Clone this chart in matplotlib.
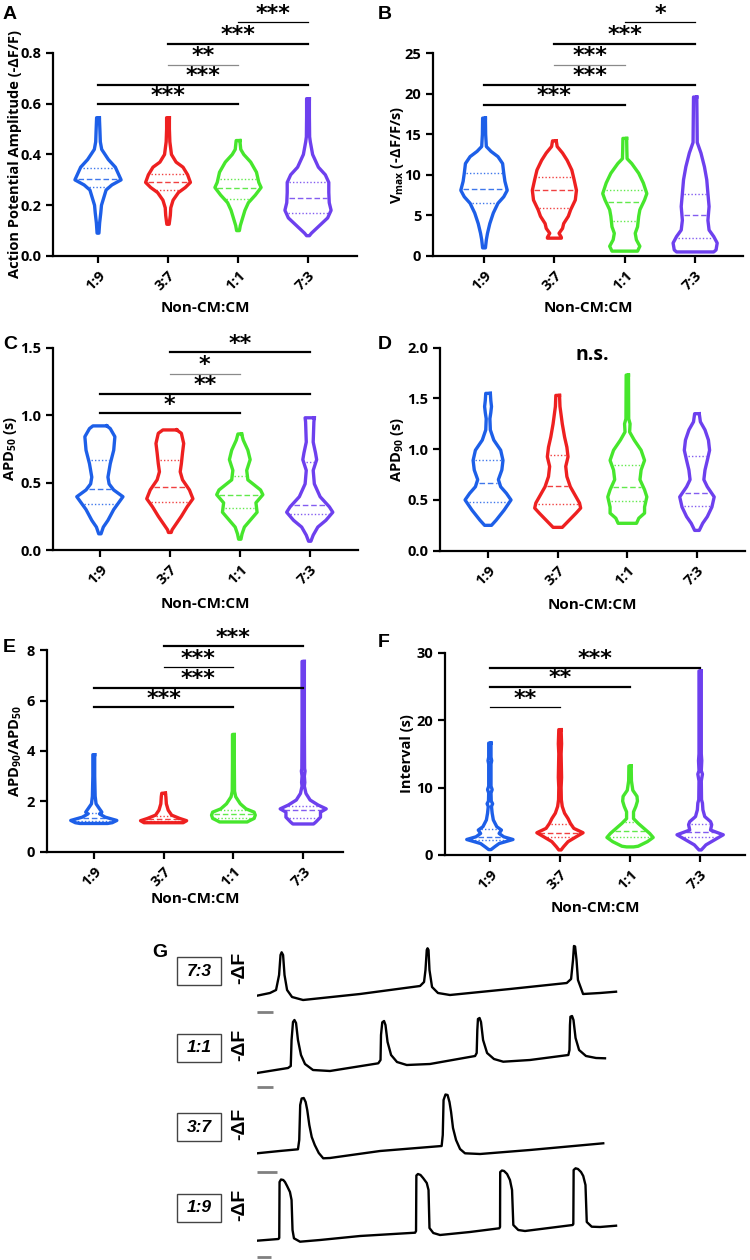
import numpy as np
import matplotlib.pyplot as plt
from matplotlib.patches import Rectangle

plt.rcParams['font.family'] = ['Open Sans', 'DejaVu Sans']
plt.rcParams['font.weight'] = 'bold'
plt.rcParams['mathtext.fontset'] = 'custom'
plt.rcParams['mathtext.rm'] = 'Open Sans:bold'
plt.rcParams['mathtext.bf'] = 'Open Sans:bold'
plt.rcParams['mathtext.it'] = 'Open Sans:bold:italic'

W, H = 750, 1260
groups = ['1:9', '3:7', '1:1', '7:3']
colors = ['#1d5fe8', '#ee2020', '#46e62c', '#6d40ee']

# ---- A: action potential amplitude, violin outline (level, relative half width)
amp_lv = [[0.545, 0.50, 0.45, 0.42, 0.38, 0.35, 0.32, 0.30, 0.28, 0.26, 0.23, 0.20, 0.17, 0.13, 0.09],
          [0.545, 0.50, 0.45, 0.40, 0.37, 0.35, 0.32, 0.29, 0.27, 0.25, 0.22, 0.19, 0.16, 0.125],
          [0.455, 0.42, 0.40, 0.37, 0.33, 0.29, 0.27, 0.24, 0.21, 0.18, 0.15, 0.12, 0.10],
          [0.62, 0.55, 0.47, 0.45, 0.40, 0.35, 0.32, 0.29, 0.25, 0.21, 0.18, 0.15, 0.12, 0.09, 0.08]]
amp_w = [[0.06, 0.08, 0.10, 0.16, 0.45, 0.75, 0.90, 1.00, 0.60, 0.35, 0.25, 0.15, 0.12, 0.07, 0.04],
         [0.06, 0.06, 0.08, 0.15, 0.35, 0.65, 0.85, 0.97, 0.75, 0.45, 0.22, 0.12, 0.10, 0.05],
         [0.08, 0.12, 0.25, 0.55, 0.80, 0.90, 1.00, 0.75, 0.45, 0.30, 0.20, 0.10, 0.06],
         [0.06, 0.06, 0.07, 0.10, 0.20, 0.45, 0.75, 0.90, 0.90, 0.92, 1.00, 0.85, 0.50, 0.15, 0.06]]
amp_q = [(0.272, 0.305, 0.348), (0.26, 0.29, 0.322), (0.225, 0.268, 0.305), (0.17, 0.23, 0.29)]
amp_sig = [(0, 2, 0.598, '***'), (0, 3, 0.674, '***'), (1, 2, 0.753, '**'),
           (1, 3, 0.837, '***'), (2, 3, 0.921, '***')]
amp_bar = ['k', 'k', 'g', 'k', 't']

# ---- B: Vmax
vmax_lv = [[17.0, 15.0, 13.5, 12.9, 12.25, 11.4, 10.2, 9.2, 8.1, 7.3, 6.5, 5.3, 4.0, 2.8, 2.0, 1.0],
           [14.2, 13.5, 12.7, 11.8, 10.6, 9.4, 8.1, 6.9, 5.7, 4.9, 4.0, 3.4, 2.8, 2.3, 2.2],
           [14.5, 13.0, 12.0, 11.4, 10.2, 9.0, 7.7, 6.9, 5.7, 4.9, 3.6, 2.8, 2.0, 1.2, 0.6],
           [19.6, 17.0, 14.0, 12.7, 11.0, 9.4, 7.7, 6.1, 4.4, 3.2, 2.4, 1.6, 0.75, 0.5]]
vmax_w = [[0.06, 0.07, 0.10, 0.30, 0.60, 0.80, 0.85, 0.90, 1.00, 0.85, 0.60, 0.40, 0.25, 0.15, 0.10, 0.06],
          [0.08, 0.12, 0.35, 0.55, 0.75, 0.85, 0.95, 0.90, 0.70, 0.60, 0.40, 0.35, 0.20, 0.30, 0.30],
          [0.08, 0.09, 0.10, 0.30, 0.60, 0.80, 0.95, 0.85, 0.65, 0.60, 0.55, 0.45, 0.50, 0.65, 0.55],
          [0.07, 0.08, 0.09, 0.25, 0.40, 0.50, 0.55, 0.60, 0.55, 0.60, 0.80, 0.95, 0.90, 0.80]]
vmax_q = [(6.5, 8.3, 10.2), (5.9, 8.1, 9.8), (4.3, 6.6, 8.1), (2.2, 5.0, 7.7)]
vmax_sig = [(0, 2, 18.6, '***'), (0, 3, 21.1, '***'), (1, 2, 23.6, '***'),
            (1, 3, 26.2, '***'), (2, 3, 28.8, '*')]
vmax_bar = ['k', 'k', 'g', 'k', 't']

# ---- C: APD50
apd50_lv = [[0.92, 0.90, 0.84, 0.74, 0.64, 0.54, 0.49, 0.445, 0.395, 0.30, 0.22, 0.17, 0.12],
            [0.89, 0.865, 0.79, 0.72, 0.64, 0.58, 0.52, 0.445, 0.38, 0.32, 0.25, 0.20, 0.15, 0.13],
            [0.86, 0.815, 0.74, 0.67, 0.59, 0.52, 0.445, 0.41, 0.35, 0.28, 0.22, 0.17, 0.12, 0.08],
            [0.98, 0.95, 0.80, 0.72, 0.67, 0.59, 0.49, 0.395, 0.32, 0.28, 0.22, 0.17, 0.11, 0.065]]
apd50_w = [[0.30, 0.45, 0.65, 0.60, 0.45, 0.35, 0.40, 0.60, 1.00, 0.60, 0.35, 0.15, 0.05],
           [0.30, 0.50, 0.60, 0.55, 0.50, 0.45, 0.55, 0.85, 1.00, 0.75, 0.50, 0.30, 0.10, 0.06],
           [0.08, 0.15, 0.35, 0.45, 0.30, 0.35, 0.90, 1.00, 0.70, 0.75, 0.45, 0.20, 0.10, 0.05],
           [0.20, 0.18, 0.15, 0.25, 0.30, 0.15, 0.20, 0.45, 0.85, 1.00, 0.70, 0.35, 0.15, 0.05]]
apd50_q = [(0.34, 0.45, 0.67), (0.355, 0.465, 0.67), (0.31, 0.41, 0.545), (0.265, 0.335, 0.65)]
apd50_sig = [(0, 2, 1.013, '*'), (0, 3, 1.156, '**'), (1, 2, 1.307, '*'), (1, 3, 1.465, '**')]
apd50_bar = ['k', 'k', 'g', 'k']

# ---- D: APD90
apd90_lv = [[1.55, 1.48, 1.42, 1.36, 1.30, 1.19, 1.09, 0.99, 0.89, 0.795, 0.70, 0.63, 0.565, 0.50, 0.40, 0.30, 0.25],
            [1.53, 1.42, 1.25, 1.12, 1.02, 0.925, 0.83, 0.73, 0.63, 0.55, 0.47, 0.42, 0.37, 0.30, 0.23],
            [1.73, 1.30, 1.25, 1.17, 1.09, 0.99, 0.89, 0.795, 0.70, 0.60, 0.53, 0.43, 0.37, 0.32, 0.27],
            [1.35, 1.27, 1.19, 1.09, 0.99, 0.89, 0.795, 0.70, 0.63, 0.53, 0.43, 0.335, 0.27, 0.20]]
apd90_w = [[0.10, 0.12, 0.15, 0.12, 0.08, 0.10, 0.25, 0.55, 0.65, 0.60, 0.45, 0.55, 0.80, 1.00, 0.70, 0.35, 0.15],
           [0.08, 0.10, 0.20, 0.30, 0.40, 0.45, 0.35, 0.40, 0.55, 0.75, 0.95, 1.00, 0.80, 0.50, 0.20],
           [0.05, 0.06, 0.12, 0.10, 0.30, 0.60, 0.75, 0.60, 0.55, 0.75, 0.85, 0.75, 0.75, 0.50, 0.40],
           [0.10, 0.15, 0.35, 0.50, 0.55, 0.45, 0.35, 0.30, 0.45, 0.75, 0.65, 0.45, 0.25, 0.10]]
apd90_q = [(0.48, 0.665, 0.89), (0.465, 0.64, 0.94), (0.49, 0.625, 0.845), (0.445, 0.57, 0.935)]

# ---- E: APD90/APD50
ratio_lv = [[3.85, 3.0, 2.2, 1.9, 1.7, 1.57, 1.5, 1.37, 1.24, 1.15, 1.12],
            [2.32, 2.18, 1.9, 1.65, 1.45, 1.32, 1.23, 1.15],
            [4.65, 3.5, 2.4, 2.18, 1.9, 1.7, 1.57, 1.45, 1.32, 1.23, 1.18],
            [7.55, 5.0, 3.3, 3.2, 3.0, 2.75, 2.6, 2.31, 2.05, 1.85, 1.7, 1.57, 1.37, 1.18, 1.10]]
ratio_w = [[0.04, 0.04, 0.06, 0.10, 0.25, 0.35, 0.25, 0.50, 1.00, 0.80, 0.60],
           [0.08, 0.10, 0.12, 0.20, 0.35, 0.70, 1.00, 0.85],
           [0.04, 0.04, 0.05, 0.10, 0.30, 0.55, 0.90, 0.95, 0.90, 0.70, 0.60],
           [0.05, 0.05, 0.06, 0.08, 0.05, 0.07, 0.05, 0.12, 0.30, 0.65, 1.00, 0.75, 0.75, 0.55, 0.45]]
ratio_q = [(1.22, 1.35, 1.55), (1.22, 1.30, 1.42), (1.35, 1.50, 1.65), (1.35, 1.65, 1.80)]
ratio_sig = [(0, 2, 5.73, '***'), (0, 3, 6.51, '***'), (1, 2, 7.32, '***'), (1, 3, 8.16, '***')]
ratio_bar = ['k', 'k', 't', 'k']

# ---- F: interval
int_lv = [[16.6, 14.5, 14.0, 13.5, 10.2, 9.7, 9.2, 8.0, 7.6, 7.2, 6.2, 5.2, 4.2, 3.7, 3.2, 2.7, 2.3, 1.7, 1.2, 0.8],
          [18.6, 16.5, 15.0, 11.5, 10.0, 8.2, 7.2, 6.2, 5.4, 4.7, 3.95, 3.3, 2.7, 1.98, 1.2, 0.75],
          [13.2, 11.0, 9.6, 8.7, 8.0, 7.2, 6.4, 5.4, 4.7, 3.95, 3.2, 2.6, 1.98, 1.3, 1.2],
          [27.3, 15.0, 14.0, 12.5, 12.0, 11.0, 8.2, 7.7, 6.7, 5.7, 4.95, 4.5, 3.7, 3.0, 2.2, 1.5, 0.75]]
int_w = [[0.05, 0.05, 0.08, 0.05, 0.05, 0.10, 0.05, 0.06, 0.12, 0.07, 0.10, 0.15, 0.30, 0.50, 0.40, 0.60, 1.00, 0.40, 0.20, 0.05],
         [0.05, 0.07, 0.05, 0.07, 0.05, 0.06, 0.10, 0.20, 0.35, 0.45, 0.60, 1.00, 0.70, 0.35, 0.15, 0.05],
         [0.05, 0.06, 0.12, 0.30, 0.32, 0.25, 0.15, 0.15, 0.35, 0.60, 0.85, 1.00, 0.75, 0.35, 0.15],
         [0.05, 0.05, 0.07, 0.05, 0.10, 0.05, 0.06, 0.10, 0.12, 0.20, 0.45, 0.50, 0.45, 1.00, 0.60, 0.25, 0.05]]
int_q = [(2.2, 2.7, 3.8), (2.6, 3.3, 4.55), (2.6, 3.5, 4.9), (2.6, 3.4, 4.6)]
int_sig = [(0, 1, 21.9, '**'), (0, 2, 24.97, '**'), (0, 3, 27.8, '***')]
int_bar = ['t', 'k', 'k']

# ---- G: representative traces, time (s) and -dF (a.u.)
trace_labels = ['7:3', '1:1', '3:7', '1:9']
t73 = [0, 0.81, 1.19, 1.38, 1.47, 1.54, 1.63, 1.72, 1.88, 2.19, 2.88, 6.44, 10.19, 10.44, 10.53, 10.61,
       10.66, 10.72, 10.78, 10.94, 11.31, 12.06, 15.81, 19.36, 19.63, 19.75, 19.81, 19.88, 19.97,
       20.06, 20.38, 21.44, 22.44]
f73 = [0.43, 0.7, 1.0, 2.5, 4.5, 4.77, 4.5, 2.5, 1.0, 0.3, 0.0, 0.6, 1.4, 1.8, 3.0, 5.0,
       5.17, 5.0, 3.0, 1.3, 0.7, 0.5, 1.1, 1.7, 2.1, 4.0, 5.4, 5.35, 4.0,
       2.0, 0.6, 0.7, 0.83]
t11 = [0, 1.94, 2.11, 2.16, 2.25, 2.34, 2.44, 2.56, 2.75, 3.0, 3.5, 4.56, 7.58, 7.72, 7.75, 7.83, 7.94,
       8.03, 8.16, 8.38, 8.75, 9.36, 10.81, 13.63, 13.73, 13.77, 13.81, 13.91, 14.0, 14.13, 14.38,
       14.81, 15.39, 17.06, 19.46, 19.53, 19.56, 19.59, 19.69, 19.78, 19.91, 20.13, 20.56, 21.19, 21.75]
f11 = [0.2, 0.7, 0.9, 3.5, 5.3, 5.5, 5.2, 3.5, 2.0, 1.1, 0.5, 0.4, 1.17, 1.5, 4.0, 5.27, 5.4,
       5.0, 3.3, 2.0, 1.3, 1.0, 1.1, 1.9, 2.2, 4.5, 5.6, 5.7, 5.3, 3.5, 2.2,
       1.6, 1.33, 1.5, 2.0, 2.5, 5.0, 5.83, 5.9, 5.5, 3.7, 2.5, 1.9, 1.7, 1.67]
t37 = [0, 1.42, 2.56, 2.64, 2.70, 2.79, 2.92, 3.04, 3.14, 3.27, 3.42, 3.61, 3.86, 4.14, 4.56, 7.69,
       11.54, 11.61, 11.66, 11.78, 11.91, 12.03, 12.13, 12.25, 12.44, 12.69, 13.0, 13.94, 17.06, 21.64]
f37 = [0.67, 0.9, 1.07, 2.0, 5.5, 6.15, 6.2, 5.8, 5.0, 3.5, 2.3, 1.5, 0.7, 0.17, 0.2, 0.9,
       1.4, 2.5, 6.0, 6.55, 6.5, 5.8, 4.8, 3.2, 2.0, 1.1, 0.67, 0.6, 1.0, 1.67]
t19 = [0, 1.34, 1.39, 1.41, 1.50, 1.64, 1.75, 1.88, 2.06, 2.16, 2.22, 2.31, 2.69, 3.94, 6.44, 9.88,
       9.94, 9.96, 10.06, 10.22, 10.38, 10.61, 10.72, 10.78, 11.02, 11.44, 13.31, 15.14, 15.19, 15.20,
       15.31, 15.44, 15.63, 15.81, 15.94, 16.02, 16.33, 16.75, 19.73, 19.77, 19.79, 19.91, 20.06,
       20.25, 20.39, 20.53, 20.61, 20.92, 21.44, 22.44]
f19 = [0.43, 0.6, 0.7, 6.3, 6.55, 6.5, 6.3, 5.9, 5.3, 4.5, 1.5, 0.67, 0.33, 0.5, 0.9, 1.23,
       1.4, 6.95, 7.1, 7.0, 6.7, 6.2, 5.5, 1.7, 1.2, 1.0, 1.3, 1.67, 1.8, 7.3,
       7.45, 7.4, 7.1, 6.5, 5.5, 2.0, 1.5, 1.4, 2.0, 2.1, 7.5, 7.67, 7.6,
       7.3, 6.9, 6.0, 2.3, 1.83, 1.8, 1.93]
traces_t = [t73, t11, t37, t19]
traces_f = [f73, f11, f37, f19]
scalebar_s = [1.0, 1.0, 1.25, 0.9]

fig = plt.figure(figsize=(W / 100, H / 100), dpi=100)


def px_axes(left, right, y0, scale, ytop):
    # axes placed from pixel positions: y0 = pixel row of value 0, scale = px per unit
    h = ytop * scale
    return fig.add_axes([left / W, 1 - y0 / H, (right - left) / W, h / H])


def violin(ax, pos, lv, w, q, color, half=0.33):
    lv = np.asarray(lv, float)
    hw = np.asarray(w, float) * half
    xs = np.r_[pos + hw, (pos - hw)[::-1], pos + hw[0]]
    ys = np.r_[lv, lv[::-1], lv[0]]
    ax.fill(xs, ys, color='white', zorder=2)
    ax.plot(xs, ys, color=color, lw=2.4, solid_joinstyle='round', zorder=3)
    for k, v in enumerate(q):
        wv = np.interp(v, lv[::-1], hw[::-1]) - 0.03
        ls = (0, (4, 2)) if k == 1 else (0, (1, 1.5))
        ax.plot([pos - wv, pos + wv], [v, v], color=color, lw=1.0, ls=ls, alpha=0.85, zorder=3)


def sig_bars(ax, sig, styles, gap):
    for (i, j, y, s), st in zip(sig, styles):
        lw = 1.6 if st == 'k' else 0.9
        c = '#8a8a8a' if st == 'g' else 'black'
        ax.plot([i + 1, j + 1], [y, y], color=c, lw=lw, clip_on=False, zorder=4)
        ax.text((i + j + 2) / 2, y + gap, s, ha='center', va='baseline', fontsize=16,
                fontweight='bold', family='DejaVu Sans', clip_on=False)


def style(ax, xlim, ylim, ymax, yticks, ylabel, lab_dx, xlab_dy, ax_px):
    ax.set_xlim(*xlim)
    ax.set_ylim(0, ylim)
    for s in ['top', 'right']:
        ax.spines[s].set_visible(False)
    ax.spines['left'].set_bounds(0, ymax)
    for s in ['left', 'bottom']:
        ax.spines[s].set_linewidth(1.6)
    ax.set_yticks(yticks)
    ax.set_xticks([1, 2, 3, 4])
    ax.set_xticklabels(groups, rotation=45, ha='right', rotation_mode='anchor')
    ax.tick_params(direction='out', length=5, width=1.6, labelsize=10.5)
    ax.tick_params(axis='x', pad=4)
    ax.set_ylabel(ylabel, fontsize=10.5, fontweight='bold')
    ax.yaxis.set_label_coords(lab_dx / ax_px[0], ymax / 2 / ylim)
    ax.set_xlabel('Non-CM:CM', fontsize=11, fontweight='bold')
    ax.xaxis.set_label_coords(0.5, -xlab_dy / ax_px[1])


def violin_panel(left, right, y0, scale, ytop, xlim, ymax, yticks, ylabel, lab_dx, xlab_dy,
                 lvs, ws, qs):
    ax = px_axes(left, right, y0, scale, ytop)
    for g in range(4):
        violin(ax, g + 1, lvs[g], ws[g], qs[g], colors[g])
    style(ax, xlim, ytop, ymax, yticks, ylabel, lab_dx, xlab_dy, (right - left, ytop * scale))
    return ax


axA = violin_panel(53, 357, 256, 253.75, 0.97, (0.357, 4.7), 0.8, [0, 0.2, 0.4, 0.6, 0.8],
                   'Action Potential Amplitude (-ΔF/F)', -31, 45, amp_lv, amp_w, amp_q)
sig_bars(axA, amp_sig, amp_bar, 0.01)

axB = violin_panel(433, 743, 256, 8.11, 30.5, (0.275, 4.68), 25, [0, 5, 10, 15, 20, 25],
                   r'V$_{\mathrm{max}}$ (-ΔF/F/s)', -27, 45, vmax_lv, vmax_w, vmax_q)
sig_bars(axB, vmax_sig, vmax_bar, 0.35)

axC = violin_panel(53, 358, 550, 134.9, 1.58, (0.33, 4.69), 1.5, [0, 0.5, 1.0, 1.5],
                   r'APD$_{\mathrm{50}}$ (s)', -34, 47, apd50_lv, apd50_w, apd50_q)
sig_bars(axC, apd50_sig, apd50_bar, 0.02)

axD = violin_panel(440, 745, 550.7, 101.5, 2.05, (0.31, 4.69), 2.0, [0, 0.5, 1.0, 1.5, 2.0],
                   r'APD$_{\mathrm{90}}$ (s)', -34, 47, apd90_lv, apd90_w, apd90_q)
axD.text(2.5, 1.93, 'n.s.', ha='center', va='center', fontsize=14, fontweight='bold')

axE = violin_panel(47, 343, 851.7, 25.2, 8.7, (0.33, 4.57), 8, [0, 2, 4, 6, 8],
                   r'APD$_{\mathrm{90}}$/APD$_{\mathrm{50}}$', -23, 40, ratio_lv, ratio_w, ratio_q)
sig_bars(axE, ratio_sig, ratio_bar, 0.1)

axF = violin_panel(445, 745, 855, 6.74, 30.5, (0.36, 4.64), 30, [0, 10, 20, 30],
                   'Interval (s)', -31, 46, int_lv, int_w, int_q)
sig_bars(axF, int_sig, int_bar, 0.35)

# panel letters
for lab, x, y in [('A', 3, 6), ('B', 378, 6), ('C', 3, 336), ('D', 378, 336),
                  ('E', 3, 639), ('F', 378, 634), ('G', 152, 944)]:
    fig.text(x / W, 1 - y / H, lab, ha='left', va='top', fontsize=14, fontweight='bold',
             family='Liberation Sans')

# ---- G traces
row_base = [1000, 1075, 1160, 1245]
box_cy = [971, 1048, 1127, 1208]
for r in range(4):
    yb = row_base[r]
    ax = fig.add_axes([257 / W, 1 - (yb + 25) / H, 384 / W, 105 / H])
    ax.plot(traces_t[r], traces_f[r], color='black', lw=1.7, solid_joinstyle='round')
    ax.plot([0, scalebar_s[r]], [-1.15, -1.15], color='#808080', lw=2.0, solid_capstyle='butt')
    ax.set_xlim(0, 24)
    ax.set_ylim(-2.5, 8)
    ax.axis('off')
    cy = box_cy[r]
    fig.patches.append(Rectangle((177 / W, 1 - (cy + 14) / H), 44 / W, 28 / H,
                                 transform=fig.transFigure, fill=False, ec='#444444', lw=1.0))
    fig.text(199 / W, 1 - cy / H, trace_labels[r], ha='center', va='center', fontsize=12.5,
             fontweight='bold', style='italic', family='Liberation Sans')
    fig.text(240 / W, 1 - (cy - 3) / H, '-ΔF', ha='center', va='center', rotation=90,
             fontsize=14, fontweight='bold', family='Liberation Sans')

fig.savefig('out.png', dpi=100)
